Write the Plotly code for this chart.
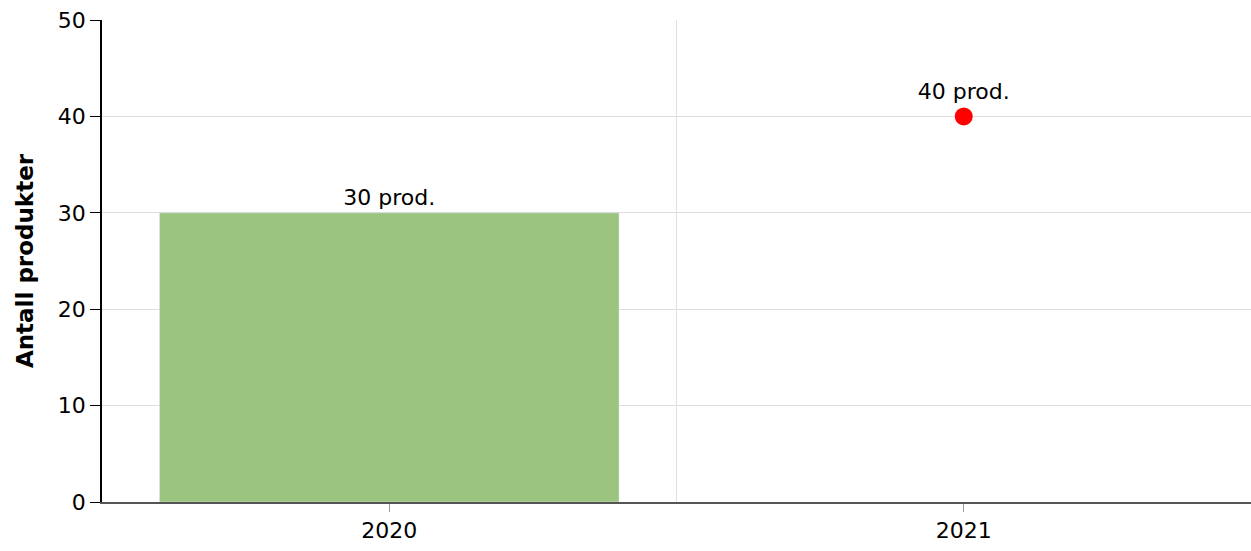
import plotly.graph_objects as go

categories = ["2020", "2021"]
bar_values = [30, None]
bar_labels = ["30 prod.", ""]
point_values = [None, 40]
point_labels = ["", "40 prod."]
y_ticks = [0, 10, 20, 30, 40, 50]

FONT = "Verdana, DejaVu Sans, sans-serif"
FS = 22

fig = go.Figure()
fig.add_trace(go.Bar(
    x=categories, y=bar_values, text=bar_labels, textposition="outside",
    marker=dict(color="#9bc47e"), width=0.8, cliponaxis=False,
    textfont=dict(size=FS, color="#000000"), showlegend=False,
))
fig.add_trace(go.Scatter(
    x=categories, y=point_values, text=point_labels, mode="markers+text",
    textposition="top center", marker=dict(color="#ff0000", size=18),
    textfont=dict(size=FS, color="#000000"), showlegend=False, cliponaxis=False,
))

# gridlines at category boundaries
for i in range(len(categories) - 1):
    fig.add_shape(type="line", xref="x", yref="paper", x0=i + 0.5, x1=i + 0.5,
                  y0=0, y1=1, line=dict(color="#e0e0e0", width=1), layer="below")

fig.update_layout(
    width=1251, height=551,
    margin=dict(l=102, r=0, t=20, b=49, autoexpand=False),
    plot_bgcolor="white", paper_bgcolor="white",
    font=dict(family=FONT, size=FS, color="#000000"),
    xaxis=dict(type="category", range=[-0.5, 1.5], showgrid=False, automargin=False,
               ticks="outside", ticklen=8, tickcolor="#999999",
               showline=True, linecolor="#555555", linewidth=1.5,
               tickfont=dict(size=FS)),
    yaxis=dict(range=[0, 50], tickvals=y_ticks, showgrid=True, automargin=False,
               gridcolor="#dddddd", gridwidth=1, zeroline=False,
               ticks="outside", ticklen=10, tickcolor="#000000",
               showline=True, linecolor="#000000", linewidth=1.5,
               tickfont=dict(size=FS),
               title=dict(text="<b>Antall produkter</b>", font=dict(size=23), standoff=18)),
)

fig.write_html(
    "out.html",
    config={"displayModeBar": False},
    post_script="document.body.style.margin='0';document.body.style.overflow='hidden';",
)
